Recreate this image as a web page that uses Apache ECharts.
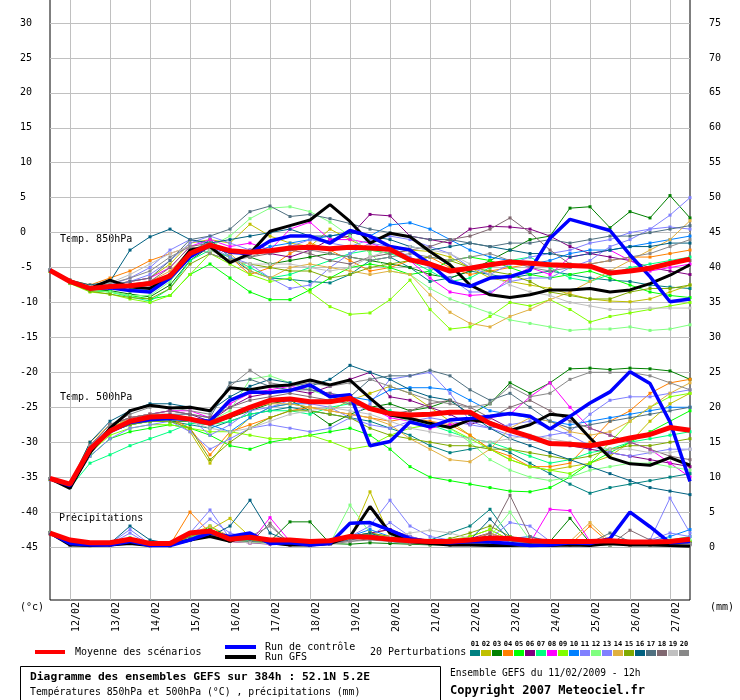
<!DOCTYPE html>
<html><head><meta charset="utf-8">
<script src="https://cdn.jsdelivr.net/npm/echarts@6/dist/echarts.min.js"></script>
<style>html,body{margin:0;padding:0;background:#fff}#c{width:740px;height:700px}</style>
</head><body><div id="c"></div><script>
// ---- time axis (12h steps from 11/02 12h to 27/02 12h) ----
const days = ['11/02','12/02','13/02','14/02','15/02','16/02','17/02','18/02','19/02','20/02','21/02','22/02','23/02','24/02','25/02','26/02','27/02'];
const categories = [];
days.forEach((d, k) => { if (k > 0) categories.push(d + ' 00h'); categories.push(d + ' 12h'); });

const leftTicks = [30,25,20,15,10,5,0,-5,-10,-15,-20,-25,-30,-35,-40,-45];
const rightTicks = [75,70,65,60,55,50,45,40,35,30,25,20,15,10,5,0];

const pertNames = ['01','02','03','04','05','06','07','08','09','10','11','12','13','14','15','16','17','18','19','20'];
const pertColors = ['#008080','#c0c000','#008000','#ff8000','#00ff00','#800080','#00ff80','#ff00ff','#80ff00','#0080ff','#8080ff','#80ff80','#8080ff','#e0b040','#80aa00','#006080','#507080','#806870','#c0c0c0','#888888'];

// ---- Temp 850 hPa ----
const mean850 = [-5.4,-7.0,-8.0,-7.7,-7.6,-7.3,-6.2,-3.0,-1.8,-2.6,-2.8,-2.6,-2.2,-2.1,-2.3,-2.1,-2.2,-2.4,-3.9,-4.5,-5.5,-5.1,-4.6,-4.2,-4.4,-4.6,-4.7,-4.8,-5.8,-5.5,-5.1,-4.4,-3.8];
const ctrl850 = [-5.4,-7.0,-8.0,-7.9,-8.3,-8.5,-6.5,-3.5,-1.8,-2.8,-3.0,-1.2,-0.5,-0.5,-1.5,0.3,-0.5,-2.0,-2.5,-4.5,-7.0,-7.7,-6.5,-6.3,-5.4,-0.8,1.9,1.1,0.3,-3.2,-6.3,-9.9,-9.5];
const gfs850 = [-5.4,-7.0,-8.0,-6.8,-7.8,-8.0,-6.2,-2.5,-2.0,-4.3,-3.0,0.2,1.0,1.8,4.0,1.6,-1.5,-0.1,-0.6,-2.7,-4.6,-7.5,-8.9,-9.3,-8.9,-8.2,-8.2,-8.0,-8.5,-8.2,-7.3,-6.1,-4.6];
const pert850 = [
 [-5.4,-7.1,-8.2,-8.0,-8.3,-8.5,-6.5,-3.0,-1.0,-3.5,-5.5,-6.5,-6.7,-7.0,-7.2,-6.0,-4.0,-3.5,-5.0,-7.0,-6.5,-5.5,-6.0,-6.5,-6.0,-5.5,-6.0,-6.5,-6.8,-7.0,-7.5,-7.8,-8.0],
 [-5.5,-7.0,-7.8,-7.5,-7.0,-6.5,-4.5,-1.5,-1.0,-1.5,1.2,-0.5,-1.5,-2.0,0.5,-1.0,-2.5,-3.0,-2.5,-2.7,-3.5,-5.0,-6.5,-7.0,-7.5,-8.0,-8.8,-9.5,-9.8,-9.9,-9.5,-8.5,-7.5],
 [-5.4,-7.2,-8.3,-8.3,-8.8,-9.2,-7.5,-4.0,-2.0,-2.5,-3.5,-4.5,-4.0,-3.5,-3.0,-3.5,-4.0,-4.5,-5.0,-6.0,-6.5,-5.5,-4.0,-2.5,-1.0,-0.5,3.5,3.7,0.7,3.0,2.1,5.3,2.1],
 [-5.4,-6.8,-7.5,-6.5,-5.5,-4.0,-3.0,-2.0,-2.5,-3.5,-6.0,-5.0,-3.0,-1.5,-2.5,-4.0,-5.5,-5.0,-4.0,-3.5,-5.0,-6.0,-5.5,-5.0,-4.5,-4.5,-5.0,-4.5,-4.0,-3.5,-3.5,-3.0,-2.5],
 [-5.5,-7.2,-8.3,-8.5,-9.0,-9.5,-9.0,-6.0,-4.5,-6.5,-8.5,-9.6,-9.6,-8.2,-6.5,-5.0,-4.5,-5.0,-6.0,-5.5,-4.0,-3.5,-4.0,-5.0,-6.0,-6.5,-6.0,-5.5,-6.5,-7.5,-8.5,-9.0,-9.3],
 [-5.4,-7.0,-8.0,-7.8,-7.6,-7.5,-6.0,-3.0,-2.0,-3.0,-2.5,-3.0,-3.5,-2.5,-1.0,-0.5,2.6,2.4,-0.5,-1.0,-1.5,0.5,0.9,0.8,0.5,-0.5,-2.0,-3.0,-3.5,-4.0,-5.0,-5.5,-6.0],
 [-5.4,-7.1,-8.2,-8.5,-9.2,-9.8,-8.0,-4.0,-2.5,-3.5,-5.0,-6.5,-6.0,-5.0,-4.0,-3.0,-2.5,-3.0,-4.0,-5.5,-7.0,-6.5,-5.0,-4.0,-3.5,-5.0,-6.5,-7.0,-6.0,-5.0,-4.5,-4.0,-3.5],
 [-5.4,-7.0,-7.8,-7.6,-7.0,-6.5,-5.0,-2.0,-1.0,-2.0,-1.5,-2.5,0.5,1.5,-1.0,-1.0,-1.5,-2.5,-4.0,-6.5,-8.5,-9.0,-8.8,-6.5,-5.0,-6.0,-3.5,-3.0,-2.5,-4.0,-5.5,-5.0,-4.5],
 [-5.5,-7.3,-8.5,-8.8,-9.5,-10.0,-9.0,-6.0,-3.0,-4.5,-6.0,-7.0,-6.5,-8.5,-10.6,-11.7,-11.5,-9.6,-6.8,-11.0,-13.8,-13.5,-12.0,-10.0,-10.5,-9.6,-11.0,-12.8,-12.0,-11.5,-11.0,-10.5,-10.0],
 [-5.4,-7.0,-8.0,-8.0,-8.2,-8.0,-6.0,-2.5,-1.5,-2.5,-3.0,-2.0,-1.5,-1.0,-0.5,0.0,-0.5,1.1,1.4,0.5,-1.0,-2.5,-3.5,-4.0,-4.5,-4.0,-3.0,-2.5,-2.5,-2.0,-1.5,-1.0,-0.5],
 [-5.4,-7.2,-8.0,-7.5,-6.5,-5.0,-2.5,-1.0,-2.0,-3.5,-4.5,-6.5,-8.0,-7.5,-5.0,-3.0,-1.5,-2.0,-3.5,-5.0,-6.5,-8.5,-8.5,-7.0,-6.5,-6.5,-5.0,-4.0,-2.0,-1.0,0.5,2.5,5.0],
 [-5.4,-7.1,-8.2,-8.5,-9.0,-9.0,-7.0,-3.5,-2.0,-0.5,2.0,3.5,3.7,3.0,1.5,-0.5,-3.0,-5.5,-6.0,-8.0,-9.5,-10.5,-11.5,-12.5,-13.0,-13.5,-14.0,-13.8,-13.8,-13.5,-14.0,-13.8,-13.2],
 [-5.4,-7.0,-7.8,-7.6,-7.0,-6.0,-4.0,-1.5,-0.5,-1.5,-2.5,-3.0,-2.0,-1.0,-1.5,-2.0,-1.0,-0.5,-1.0,-2.0,-3.0,-5.0,-6.0,-4.5,-3.5,-3.0,-2.5,-1.5,-1.0,0.0,0.5,0.8,0.5],
 [-5.4,-7.0,-8.0,-7.8,-7.5,-7.0,-5.5,-2.5,-1.5,-3.0,-5.5,-6.5,-5.0,-4.5,-5.0,-5.5,-6.0,-5.5,-6.0,-8.9,-11.4,-13.0,-13.5,-12.0,-11.0,-9.6,-8.5,-7.0,-5.5,-4.0,-2.5,-1.0,1.7],
 [-5.5,-7.2,-8.4,-8.8,-9.3,-9.5,-8.0,-4.5,-3.0,-4.0,-4.5,-5.0,-5.5,-5.5,-6.5,-6.0,-5.0,-4.5,-4.0,-3.5,-4.0,-5.0,-5.5,-6.0,-7.0,-8.5,-9.0,-9.5,-9.5,-8.5,-8.0,-8.0,-7.5],
 [-5.4,-6.8,-7.5,-7.0,-2.5,-0.6,0.5,-1.0,-1.5,-1.0,-0.5,0.0,0.5,-0.5,-0.5,0.0,-0.5,-1.0,-2.0,-2.5,-2.0,-1.5,-2.0,-2.5,-3.0,-3.0,-3.5,-3.0,-2.5,-2.0,-2.0,-1.5,-1.5],
 [-5.4,-7.0,-7.8,-7.5,-7.0,-6.5,-4.0,-1.0,-0.5,0.5,3.0,3.8,2.3,2.6,2.0,1.3,0.5,0.0,-0.5,-1.0,-1.0,-1.5,-2.0,-1.5,-1.5,-1.0,-1.5,-1.0,-0.5,-0.5,0.0,0.5,1.0],
 [-5.4,-7.0,-7.9,-7.7,-7.4,-7.0,-5.0,-2.0,-1.5,-2.5,-3.5,-3.0,-2.5,-3.0,-4.0,-4.5,-3.5,-3.0,-2.5,-2.0,-1.0,-0.5,0.5,2.1,0.0,-2.5,-4.5,-5.0,-5.5,-5.5,-5.0,-4.5,-4.0],
 [-5.4,-7.0,-7.7,-7.2,-6.0,-4.5,-3.0,-2.0,-2.5,-4.0,-4.5,-4.5,-4.5,-5.0,-5.5,-5.0,-3.5,-2.5,-2.0,-2.5,-3.0,-4.5,-6.0,-7.5,-8.5,-9.0,-10.0,-10.5,-11.0,-11.0,-10.8,-10.8,-10.8],
 [-5.4,-7.0,-7.8,-7.3,-6.5,-5.5,-3.5,-2.0,-3.0,-4.0,-3.5,-2.5,-2.0,-2.5,-3.0,-3.5,-4.0,-3.5,-3.0,-3.5,-4.0,-3.5,-3.0,-4.0,-5.0,-5.5,-5.0,-4.5,-4.0,-3.5,-3.0,-2.0,-1.0]
];

// ---- Temp 500 hPa ----
const mean500 = [-35.2,-36.0,-31.0,-28.4,-27.0,-26.4,-26.3,-26.7,-27.3,-26.2,-25.0,-24.0,-23.8,-24.2,-24.2,-23.7,-25.2,-25.9,-26.1,-26.0,-25.7,-25.7,-27.3,-28.3,-29.2,-30.2,-30.3,-30.5,-30.0,-29.4,-28.9,-27.9,-28.3];
const ctrl500 = [-35.2,-36.2,-31.0,-28.5,-27.2,-26.8,-26.6,-26.7,-27.0,-24.0,-22.8,-22.9,-22.6,-21.8,-23.5,-23.2,-30.5,-29.9,-27.1,-27.8,-26.8,-26.6,-26.3,-25.9,-26.3,-28.1,-26.3,-24.4,-22.8,-19.9,-21.6,-27.1,-35.6];
const gfs500 = [-35.2,-36.6,-31.5,-28.0,-25.5,-24.7,-25.1,-25.0,-25.5,-22.2,-22.5,-22.0,-21.8,-21.1,-21.8,-21.1,-23.7,-26.1,-26.6,-27.3,-27.9,-26.8,-27.2,-28.3,-27.5,-26.0,-26.3,-29.4,-32.2,-33.1,-33.3,-32.2,-33.3];
const pert500 = [
 [-35.3,-36.3,-31.5,-28.5,-27.5,-27.0,-27.0,-27.5,-28.0,-27.0,-26.0,-25.5,-25.0,-25.5,-26.0,-26.5,-27.0,-28.0,-29.0,-30.5,-31.5,-31.0,-30.5,-31.5,-33.0,-34.5,-36.0,-37.3,-36.5,-36.0,-35.5,-35.0,-34.5],
 [-35.2,-36.0,-30.5,-28.0,-26.5,-26.0,-26.5,-28.5,-33.0,-29.0,-26.5,-25.0,-24.5,-25.0,-25.5,-24.0,-23.0,-22.0,-23.0,-25.0,-27.0,-29.0,-31.0,-32.5,-33.5,-34.0,-33.5,-33.0,-32.0,-30.0,-27.0,-24.5,-23.0],
 [-35.2,-36.1,-31.0,-28.5,-27.5,-27.0,-27.0,-27.0,-27.5,-26.5,-25.5,-24.5,-24.0,-25.5,-27.5,-26.0,-25.0,-24.5,-25.5,-25.0,-24.0,-26.0,-24.5,-21.5,-23.0,-21.5,-19.5,-19.4,-19.6,-19.4,-19.5,-19.8,-21.0],
 [-35.2,-36.2,-30.5,-28.0,-27.0,-26.5,-26.5,-28.0,-31.8,-28.5,-27.5,-26.5,-25.5,-25.0,-25.5,-26.0,-26.5,-27.0,-26.5,-27.0,-27.5,-29.0,-31.0,-32.0,-33.5,-33.5,-33.0,-30.0,-27.0,-25.5,-23.0,-21.5,-21.0],
 [-35.3,-36.4,-32.0,-29.5,-28.5,-28.0,-27.5,-28.0,-29.0,-30.5,-31.0,-30.0,-29.5,-29.0,-28.5,-28.0,-29.0,-31.0,-33.5,-35.0,-35.5,-36.0,-36.5,-37.0,-37.1,-36.5,-35.0,-33.0,-31.5,-30.0,-28.5,-27.0,-25.5],
 [-35.2,-36.0,-30.5,-27.5,-26.5,-26.0,-25.5,-26.0,-27.0,-25.0,-23.5,-23.0,-22.5,-23.0,-22.0,-21.0,-20.0,-23.5,-24.0,-25.0,-26.0,-27.5,-26.5,-28.0,-29.5,-30.0,-30.5,-31.0,-31.5,-32.0,-32.5,-33.0,-33.5],
 [-35.3,-36.5,-33.0,-31.8,-30.5,-29.5,-28.5,-27.3,-27.5,-27.0,-26.0,-25.5,-25.5,-26.0,-25.0,-24.5,-25.0,-25.5,-26.5,-27.5,-28.5,-29.5,-30.0,-31.0,-32.0,-33.0,-32.5,-31.5,-31.0,-30.0,-29.5,-29.0,-28.5],
 [-35.2,-36.0,-30.5,-27.5,-26.5,-26.0,-25.5,-25.5,-26.5,-24.5,-23.0,-22.5,-22.0,-22.5,-23.0,-24.0,-25.0,-26.5,-27.0,-28.0,-27.5,-27.0,-26.5,-26.0,-23.5,-21.5,-25.0,-28.0,-29.0,-30.0,-31.0,-33.0,-35.0],
 [-35.3,-36.3,-31.5,-29.0,-28.0,-27.5,-27.5,-28.0,-28.5,-28.5,-29.0,-29.5,-29.5,-29.0,-29.9,-31.0,-30.5,-29.0,-28.0,-27.5,-28.0,-29.5,-31.0,-32.5,-33.5,-34.0,-34.5,-33.0,-30.0,-27.0,-25.0,-23.5,-23.0],
 [-35.2,-36.0,-30.5,-28.0,-27.0,-26.5,-26.5,-27.0,-27.5,-28.5,-26.5,-25.0,-24.5,-24.5,-24.0,-23.5,-24.0,-22.5,-22.2,-22.2,-22.5,-24.0,-25.5,-26.0,-26.5,-27.0,-27.5,-27.0,-26.5,-26.0,-25.5,-25.0,-25.0],
 [-35.4,-36.5,-32.0,-29.5,-28.0,-27.5,-27.0,-28.5,-31.0,-29.5,-28.0,-27.5,-28.0,-28.5,-28.0,-26.5,-24.5,-21.0,-20.5,-20.0,-23.0,-27.0,-28.0,-29.0,-29.5,-29.0,-28.5,-26.0,-24.0,-23.5,-23.5,-23.0,-22.5],
 [-35.3,-36.2,-31.0,-28.5,-27.5,-27.0,-27.0,-26.5,-27.0,-25.5,-21.0,-20.5,-21.5,-22.5,-23.5,-24.5,-25.0,-26.0,-27.0,-27.5,-28.0,-30.0,-32.5,-34.0,-35.0,-35.5,-35.0,-34.0,-33.5,-33.0,-33.0,-33.5,-34.0],
 [-35.2,-36.1,-30.5,-27.5,-26.5,-26.0,-26.0,-26.5,-29.0,-27.5,-25.5,-25.0,-24.0,-24.5,-25.0,-26.5,-27.5,-28.0,-27.0,-26.5,-27.0,-27.5,-28.0,-27.5,-27.0,-28.0,-29.0,-30.5,-31.5,-32.0,-31.5,-31.0,-31.0],
 [-35.2,-36.0,-30.0,-27.5,-26.5,-26.0,-26.0,-26.5,-27.0,-26.0,-25.0,-24.5,-24.5,-25.0,-25.5,-26.0,-26.5,-27.5,-29.5,-31.0,-32.5,-32.8,-31.0,-28.0,-26.5,-27.0,-28.5,-29.0,-28.5,-27.0,-25.0,-23.0,-21.5],
 [-35.3,-36.3,-31.5,-28.5,-27.5,-27.0,-27.0,-28.0,-32.5,-30.0,-28.0,-26.5,-25.5,-25.5,-26.0,-26.5,-28.0,-29.0,-29.5,-30.0,-30.5,-30.5,-31.0,-31.0,-31.5,-32.0,-32.5,-32.0,-31.0,-30.5,-30.5,-30.0,-29.5],
 [-35.2,-36.0,-30.0,-27.0,-25.5,-24.5,-24.5,-25.0,-25.5,-23.5,-22.0,-21.0,-21.5,-22.0,-21.0,-19.0,-20.0,-21.0,-22.5,-23.5,-24.0,-26.0,-28.0,-29.5,-30.5,-31.5,-32.5,-33.5,-34.5,-35.5,-36.5,-37.0,-37.5],
 [-35.2,-36.0,-30.5,-28.0,-27.0,-26.5,-26.0,-26.0,-26.5,-21.5,-21.0,-22.0,-22.5,-22.5,-23.0,-23.5,-21.0,-20.5,-20.5,-19.7,-20.5,-22.5,-24.0,-23.0,-25.0,-27.0,-28.0,-27.5,-27.0,-26.5,-26.0,-25.5,-25.0],
 [-35.2,-36.0,-30.5,-27.5,-26.5,-26.0,-25.5,-26.0,-26.5,-25.0,-24.0,-23.5,-23.0,-23.5,-24.0,-24.5,-25.0,-26.0,-25.5,-24.5,-24.0,-25.0,-26.5,-25.0,-24.0,-25.5,-27.0,-28.0,-29.0,-30.0,-31.0,-32.0,-32.5],
 [-35.2,-36.0,-30.5,-28.0,-27.0,-26.5,-26.5,-27.0,-28.0,-28.5,-28.0,-27.0,-26.0,-25.5,-25.0,-25.5,-26.0,-27.0,-28.0,-28.5,-29.0,-29.5,-30.0,-29.5,-29.0,-29.5,-30.0,-30.5,-31.0,-31.0,-31.5,-31.5,-31.0],
 [-35.2,-36.0,-30.5,-27.5,-26.0,-25.0,-25.0,-25.5,-26.0,-22.0,-19.7,-21.5,-22.0,-21.5,-22.0,-21.5,-21.0,-22.0,-23.0,-24.0,-24.5,-25.0,-24.5,-22.0,-23.5,-23.0,-21.0,-20.0,-20.0,-20.0,-20.5,-21.5,-22.5]
];

// ---- Precipitation (mm, right axis) ----
const meanPrecip = [2.0,1.0,0.6,0.6,1.1,0.5,0.5,2.0,2.3,1.1,1.4,1.0,1.0,0.8,0.9,1.5,1.4,1.1,0.9,0.8,0.8,1.0,1.3,1.2,0.9,0.8,0.8,0.8,0.9,0.7,0.7,0.8,1.1];
const ctrlPrecip = [2.0,0.5,0.3,0.3,0.8,0.2,0.2,1.0,2.0,1.5,2.0,0.5,0.6,0.3,0.5,3.4,3.5,2.4,1.2,0.8,0.6,0.8,0.7,0.5,0.2,0.3,0.6,0.5,1.2,5.0,2.9,0.6,0.8];
const gfsPrecip = [2.0,0.3,0.2,0.3,0.5,0.2,0.3,1.0,1.5,0.8,1.8,0.6,0.3,0.3,0.5,1.5,5.8,2.0,0.8,0.5,0.3,0.3,0.2,0.2,0.3,0.2,0.3,0.2,0.5,0.3,0.3,0.2,0.1];
const pertPrecip = [
 [2.0,0.5,0.3,0.4,0.8,0.3,0.2,1.5,2.5,1.0,1.2,0.5,0.4,0.3,0.5,1.0,1.5,0.8,0.5,1.0,2.0,3.0,5.4,1.5,0.8,0.5,0.5,0.8,0.6,0.5,0.4,0.5,0.6],
 [2.0,0.4,0.2,0.3,0.6,0.2,0.3,1.5,2.5,4.1,1.5,0.5,0.4,0.3,0.5,1.2,7.9,1.5,0.8,0.6,0.5,1.5,2.5,1.0,0.5,0.4,0.5,0.6,0.4,0.3,0.4,0.5,0.6],
 [1.9,0.3,0.2,0.3,0.5,0.2,0.2,1.0,1.8,0.8,1.0,0.8,3.6,3.6,0.5,0.4,0.6,0.5,0.4,0.3,0.3,0.4,0.5,0.6,0.4,0.8,4.1,0.6,0.4,0.5,0.3,0.3,0.4],
 [2.0,0.4,0.3,0.5,1.0,0.3,0.3,5.0,2.0,1.0,1.5,0.5,0.3,0.3,0.4,1.0,2.0,2.5,1.0,0.6,0.4,0.5,0.8,0.5,0.4,0.3,0.3,3.0,0.5,0.4,0.3,0.4,0.5],
 [2.1,0.5,0.3,0.4,1.3,0.3,0.2,1.0,3.0,1.2,1.0,0.6,0.5,0.4,0.6,1.5,1.8,1.0,0.6,0.5,0.4,0.6,1.0,0.5,0.3,0.3,0.4,0.3,0.3,0.6,0.4,0.3,0.8],
 [1.9,0.3,0.3,0.4,0.6,0.2,0.2,1.2,2.0,0.8,0.6,0.4,0.3,0.2,0.4,1.0,2.0,2.5,1.5,0.8,0.8,1.2,2.0,1.0,0.6,0.5,0.4,0.3,0.3,0.3,0.5,0.6,0.5],
 [2.0,0.4,0.3,0.4,1.0,0.4,0.3,1.5,2.5,1.0,0.8,0.5,0.4,0.3,0.5,1.5,2.0,1.2,0.8,0.6,0.5,0.8,1.2,0.8,0.6,0.5,0.8,0.6,0.5,0.4,0.6,1.0,1.5],
 [2.0,0.4,0.3,0.3,0.5,0.2,0.2,1.5,2.0,0.8,0.6,4.2,0.8,0.5,0.4,1.0,1.5,1.2,0.8,0.5,0.6,0.8,1.0,0.8,0.6,5.4,5.2,0.8,0.5,0.4,0.4,0.3,0.4],
 [2.0,0.5,0.3,0.4,0.8,0.3,0.2,1.5,2.0,1.0,0.8,0.5,0.4,0.3,0.5,1.2,1.5,1.0,0.5,0.6,1.0,1.5,2.5,1.0,0.6,0.5,0.4,0.3,0.3,0.4,0.5,0.6,0.8],
 [2.0,0.4,0.3,0.4,0.7,0.3,0.3,1.2,2.5,1.2,1.0,0.5,0.4,0.3,0.4,1.5,2.5,1.5,0.8,0.6,0.8,1.0,1.5,1.2,1.5,0.8,0.5,0.5,0.6,0.4,0.8,1.5,2.5],
 [2.0,0.5,0.3,0.5,2.5,0.4,0.3,2.0,5.3,1.2,1.0,0.6,0.5,0.4,0.5,1.5,3.0,6.7,3.0,1.5,1.0,0.8,1.2,3.5,3.0,0.8,0.5,0.4,0.5,0.6,1.0,7.0,2.0],
 [2.0,0.4,0.3,0.4,1.0,0.3,0.2,1.2,2.0,1.0,0.8,0.5,0.4,0.3,0.5,6.0,2.0,1.2,0.8,0.6,0.5,0.8,1.5,5.0,1.0,0.6,0.5,0.4,0.3,0.4,0.5,0.8,1.0],
 [2.0,0.3,0.3,0.4,2.0,0.3,0.2,1.5,4.0,2.0,1.2,0.5,0.4,0.3,0.4,1.0,1.5,3.5,1.5,0.8,0.6,0.5,1.0,1.5,0.8,0.5,0.4,0.3,0.5,0.4,1.0,2.0,1.5],
 [2.0,0.4,0.3,0.4,0.8,0.3,0.2,1.8,3.0,1.5,1.0,0.6,0.5,0.4,0.5,1.2,2.0,1.5,1.0,0.8,0.6,1.0,2.0,1.0,0.6,0.5,0.8,3.5,0.8,0.5,0.4,0.5,0.6],
 [2.0,0.4,0.3,0.5,1.0,0.3,0.2,1.5,2.5,1.5,1.0,0.6,0.5,0.4,0.5,1.5,2.0,1.5,0.8,0.6,1.2,2.0,3.0,1.5,0.8,0.5,0.4,0.3,0.4,0.3,0.4,0.5,0.6],
 [2.0,0.5,0.3,0.5,3.0,1.0,0.5,1.0,1.5,3.0,6.7,2.0,0.8,0.5,0.6,1.5,2.0,1.0,0.6,0.5,0.6,1.0,4.0,1.0,0.6,0.5,0.4,0.5,1.0,0.6,0.5,0.4,0.5],
 [2.0,0.4,0.3,0.4,0.6,0.3,0.2,1.2,2.0,1.0,0.8,0.6,0.5,0.4,0.5,1.0,1.5,1.2,0.8,0.6,0.5,1.0,1.5,0.8,0.6,0.5,0.4,0.6,2.0,0.8,0.5,0.4,0.5],
 [2.0,0.4,0.3,0.4,0.6,0.2,0.2,1.0,1.8,0.8,0.6,3.4,0.3,0.5,1.0,0.8,1.2,1.0,0.6,0.5,0.4,0.6,2.0,7.4,1.5,0.6,0.5,0.4,0.3,2.4,1.0,0.4,0.5],
 [2.0,0.4,0.3,0.4,0.6,0.3,0.2,1.0,1.5,0.8,0.6,0.5,0.4,0.3,0.4,0.8,1.5,1.5,2.0,2.4,2.0,1.2,0.8,0.6,0.5,0.4,0.4,0.3,0.3,0.3,0.3,0.3,0.4],
 [2.0,0.3,0.2,0.3,0.5,0.2,0.2,1.0,1.5,0.8,1.5,3.0,0.6,0.4,0.4,0.8,1.0,0.8,0.5,0.4,0.3,0.4,0.6,0.5,0.4,0.3,0.3,0.3,0.3,0.3,0.3,0.2,0.3]
];

// ---- chart ----
const MONO = '"DejaVu Sans Mono", monospace';
const isDay = (i, v) => /00h$/.test(v);

function pertSeries(list, yIdx) {
  return list.map((d, k) => ({
    type: 'line', xAxisIndex: 0, yAxisIndex: yIdx, data: d, name: pertNames[k],
    symbol: 'rect', symbolSize: 3, showSymbol: true, showAllSymbol: true,
    lineStyle: { width: 1, color: pertColors[k] }, itemStyle: { color: pertColors[k] },
    z: 2, clip: false, silent: true, animation: false
  }));
}
function mainSeries(d, yIdx, color, width, z) {
  return { type: 'line', xAxisIndex: 0, yAxisIndex: yIdx, data: d, showSymbol: false, symbol: 'none',
    lineStyle: { width: width, color: color }, itemStyle: { color: color }, z: z, clip: false, silent: true, animation: false };
}

const series = [].concat(
  pertSeries(pert850, 0), pertSeries(pert500, 0), pertSeries(pertPrecip, 1),
  [mainSeries(gfs850, 0, '#000000', 3, 3), mainSeries(gfs500, 0, '#000000', 3, 3), mainSeries(gfsPrecip, 1, '#000000', 3, 3),
   mainSeries(ctrl850, 0, '#0000ff', 3.5, 4), mainSeries(ctrl500, 0, '#0000ff', 3.5, 4), mainSeries(ctrlPrecip, 1, '#0000ff', 3.5, 4),
   mainSeries(mean850, 0, '#ff0000', 5, 5), mainSeries(mean500, 0, '#ff0000', 5, 5), mainSeries(meanPrecip, 1, '#ff0000', 5, 5)]
);

const txt = (x, y, text, font, extra) => Object.assign({ type: 'text', x: x, y: y, silent: true,
  style: { text: text, font: font, fill: '#000', verticalAlign: 'middle', align: 'left' } }, extra || {});

const graphics = [
  txt(60, 239, 'Temp. 850hPa', '10px ' + MONO),
  txt(60, 397, 'Temp. 500hPa', '10px ' + MONO),
  txt(59, 518, 'Précipitations', '10px ' + MONO),
  txt(20, 607, '(°c)', '10px ' + MONO),
  txt(710, 607, '(mm)', '10px ' + MONO),
  { type: 'rect', shape: { x: 35, y: 650, width: 30, height: 4 }, style: { fill: '#ff0000' }, silent: true },
  { type: 'rect', shape: { x: 225, y: 645, width: 31, height: 4 }, style: { fill: '#0000ff' }, silent: true },
  { type: 'rect', shape: { x: 225, y: 655, width: 31, height: 4 }, style: { fill: '#000000' }, silent: true },
  txt(75, 652, 'Moyenne des scénarios', '10px ' + MONO),
  txt(265, 647, 'Run de contrôle', '10px ' + MONO),
  txt(265, 657, 'Run GFS', '10px ' + MONO),
  txt(370, 652, '20 Perturbations', '10px ' + MONO),
  { type: 'rect', shape: { x: 20.5, y: 666.5, width: 420, height: 40 }, style: { fill: '#fff', stroke: '#000', lineWidth: 1 }, silent: true },
  txt(30, 677, 'Diagramme des ensembles GEFS sur 384h : 52.1N 5.2E', 'bold 11.3px ' + MONO),
  txt(30, 692, 'Températures 850hPa et 500hPa (°C) , précipitations (mm)', '9.8px ' + MONO),
  txt(450, 673, 'Ensemble GEFS du 11/02/2009 - 12h', '9.6px ' + MONO),
  txt(450, 691, 'Copyright 2007 Meteociel.fr', 'bold 12px ' + MONO)
];
pertColors.forEach((c, k) => {
  graphics.push({ type: 'rect', shape: { x: 470 + 11 * k, y: 650, width: 10, height: 6 }, style: { fill: c }, silent: true });
  graphics.push({ type: 'text', x: 475 + 11 * k, y: 644, silent: true,
    style: { text: pertNames[k], font: 'bold 7px ' + MONO, fill: '#000', align: 'center', verticalAlign: 'middle' } });
});

const option = {
  backgroundColor: '#ffffff',
  animation: false,
  grid: [
    { left: 50, right: 50, top: 23, bottom: 153, containLabel: false, outerBoundsMode: 'none' },
    { left: 50, right: 50, top: -1, bottom: 100, containLabel: false, outerBoundsMode: 'none', show: true,
      borderColor: '#000', borderWidth: 1, backgroundColor: 'rgba(0,0,0,0)' }
  ],
  xAxis: [
    { gridIndex: 0, type: 'category', data: categories, boundaryGap: false, show: false },
    { gridIndex: 1, type: 'category', data: categories, boundaryGap: false,
      axisLine: { show: false }, axisTick: { show: false },
      splitLine: { show: true, interval: isDay, lineStyle: { color: '#c0c0c0', width: 1 } },
      axisLabel: { interval: isDay, rotate: 90, margin: 2, verticalAlign: 'top', lineHeight: 13,
        formatter: v => v.split(' ')[0], color: '#000', fontFamily: MONO, fontSize: 10 } }
  ],
  yAxis: [
    { gridIndex: 0, type: 'value', min: -45, max: 30, interval: 5, position: 'left',
      axisLine: { show: false }, axisTick: { show: false }, showMinLabel: true, showMaxLabel: true,
      splitLine: { show: true, lineStyle: { color: '#c0c0c0', width: 1 } },
      axisLabel: { align: 'left', margin: 30, color: '#000', fontFamily: MONO, fontSize: 10,
        formatter: v => leftTicks.indexOf(v) >= 0 ? String(v) : '' } },
    { gridIndex: 0, type: 'value', min: 0, max: 75, interval: 5, position: 'right',
      axisLine: { show: false }, axisTick: { show: false }, splitLine: { show: false }, showMinLabel: true, showMaxLabel: true,
      axisLabel: { align: 'left', margin: 19, color: '#000', fontFamily: MONO, fontSize: 10,
        formatter: v => rightTicks.indexOf(v) >= 0 ? String(v) : '' } },
    { gridIndex: 1, type: 'value', min: 0, max: 1, show: false }
  ],
  series: series,
  graphic: graphics
};

const chart = echarts.init(document.getElementById('c'), null, { renderer: 'canvas' });
chart.setOption(option);
</script></body></html>
